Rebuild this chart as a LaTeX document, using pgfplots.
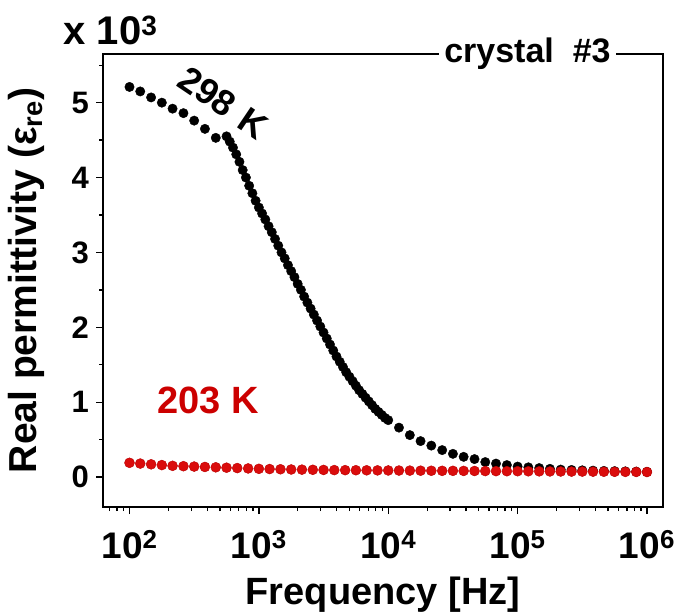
\documentclass[border=0pt]{standalone}
\usepackage{fontspec}
\setmainfont{Liberation Sans}
\usepackage{pgfplots}
\usepackage{pgfplotstable}
\pgfplotsset{compat=1.18}
\definecolor{dotred}{RGB}{218,12,12}
\definecolor{edgered}{RGB}{185,0,0}
\definecolor{labred}{RGB}{204,0,0}

% 298 K : log10(frequency), real permittivity (x 10^3)
\pgfplotstableread{
lf val
2.000 5.21
2.083 5.15
2.167 5.07
2.250 5.00
2.333 4.92
2.417 4.86
2.500 4.76
2.583 4.65
2.667 4.53
2.750 4.55
2.775 4.48
2.800 4.40
2.825 4.31
2.850 4.21
2.875 4.10
2.900 4.00
2.925 3.89
2.950 3.79
2.975 3.69
3.000 3.60
3.025 3.52
3.050 3.44
3.075 3.35
3.100 3.27
3.125 3.18
3.150 3.09
3.175 3.00
3.200 2.92
3.225 2.83
3.250 2.75
3.275 2.67
3.300 2.58
3.325 2.50
3.350 2.41
3.375 2.33
3.400 2.25
3.425 2.17
3.450 2.09
3.475 2.01
3.500 1.93
3.525 1.85
3.550 1.77
3.575 1.69
3.600 1.61
3.625 1.54
3.650 1.47
3.675 1.40
3.700 1.34
3.725 1.28
3.750 1.22
3.775 1.16
3.800 1.11
3.825 1.06
3.850 1.01
3.875 0.96
3.900 0.91
3.925 0.87
3.950 0.83
3.975 0.79
4.000 0.76
4.083 0.66
4.167 0.56
4.250 0.48
4.333 0.42
4.417 0.36
4.500 0.31
4.583 0.27
4.667 0.24
4.750 0.20
4.833 0.18
4.917 0.16
5.000 0.14
5.083 0.13
5.167 0.12
5.250 0.11
5.333 0.10
5.417 0.095
5.500 0.090
5.583 0.086
5.667 0.082
5.750 0.079
5.833 0.076
5.917 0.073
6.000 0.070
}\warm

% 203 K
\pgfplotstableread{
lf val
2.000 0.190
2.083 0.180
2.167 0.170
2.250 0.160
2.333 0.150
2.417 0.145
2.500 0.140
2.583 0.135
2.667 0.130
2.750 0.125
2.833 0.120
2.917 0.115
3.000 0.110
3.083 0.107
3.167 0.104
3.250 0.101
3.333 0.099
3.417 0.097
3.500 0.095
3.583 0.093
3.667 0.092
3.750 0.091
3.833 0.090
3.917 0.089
4.000 0.088
4.083 0.087
4.167 0.086
4.250 0.085
4.333 0.084
4.417 0.083
4.500 0.083
4.583 0.082
4.667 0.081
4.750 0.080
4.833 0.079
4.917 0.078
5.000 0.078
5.083 0.077
5.167 0.076
5.250 0.075
5.333 0.074
5.417 0.073
5.500 0.073
5.583 0.072
5.667 0.071
5.750 0.070
5.833 0.069
5.917 0.068
6.000 0.067
}\cold

\begin{document}
\begin{tikzpicture}
\begin{axis}[
  at={(0,0)}, anchor=south west,
  scale only axis,
  width=560pt, height=453pt,
  xmode=log,
  xmin=62.4, xmax=1.33e6,
  ymin=-0.40, ymax=5.65,
  axis line style={line width=1.5pt},
  every tick/.style={line width=1.3pt, black},
  tick align=outside,
  xtick pos=bottom, ytick pos=left,
  major tick length=7pt, minor tick length=4pt,
  xtick={1e2,1e3,1e4,1e5,1e6},
  xticklabels={10\textsuperscript{2},10\textsuperscript{3},10\textsuperscript{4},10\textsuperscript{5},10\textsuperscript{6}},
  minor xtick={70,80,90,200,300,400,500,600,700,800,900,2000,3000,4000,5000,6000,7000,8000,9000,2e4,3e4,4e4,5e4,6e4,7e4,8e4,9e4,2e5,3e5,4e5,5e5,6e5,7e5,8e5,9e5},
  ytick={0,1,2,3,4,5},
  yticklabels={0,1,2,3,4,5},
  minor ytick={0.5,1.5,2.5,3.5,4.5,5.5},
  xticklabel style={font=\fontsize{37}{42}\selectfont\bfseries, anchor=base, yshift=-44pt},
  yticklabel style={font=\fontsize{31}{36}\selectfont\bfseries, inner xsep=0pt, xshift=-7pt},
  xlabel={Frequency [Hz]},
  ylabel={Real permittivity (ε\textsubscript{re})},
  xlabel style={font=\fontsize{38}{42}\selectfont\bfseries, at={(axis description cs:0.5,-0.2163)}, anchor=base},
  ylabel style={font=\fontsize{39}{44}\selectfont\bfseries, at={(axis description cs:-0.1375,0.5)}, anchor=center},
  clip=false,
]
\addplot[only marks, mark=*, mark size=4.7pt, mark options={fill=black, draw=black}]
  table[x expr={10^\thisrow{lf}}, y=val] {\warm};
\addplot[only marks, mark=*, mark size=5pt, mark options={fill=dotred, draw=edgered, line width=0.4pt}]
  table[x expr={10^\thisrow{lf}}, y=val] {\cold};

\node[fill=white, inner xsep=5pt, inner ysep=2pt, font=\fontsize{34}{38}\selectfont\bfseries]
  at (rel axis cs:0.758,1) {crystal\ \ \#3};
\node[anchor=base west, font=\fontsize{40}{44}\selectfont\bfseries, xshift=-43pt, yshift=9pt]
  at (rel axis cs:0,1) {x 10\textsuperscript{3}};
\node[rotate=-34, font=\fontsize{36}{40}\selectfont\bfseries]
  at (rel axis cs:0.2150,0.8920) {298\hspace{0.35em}K};
\node[text=labred, font=\fontsize{38}{42}\selectfont\bfseries]
  at (rel axis cs:0.1875,0.236) {203 K};
\end{axis}
\pgfresetboundingbox
\path (-103pt,-106pt) rectangle (574pt,507pt);
\end{tikzpicture}
\end{document}
